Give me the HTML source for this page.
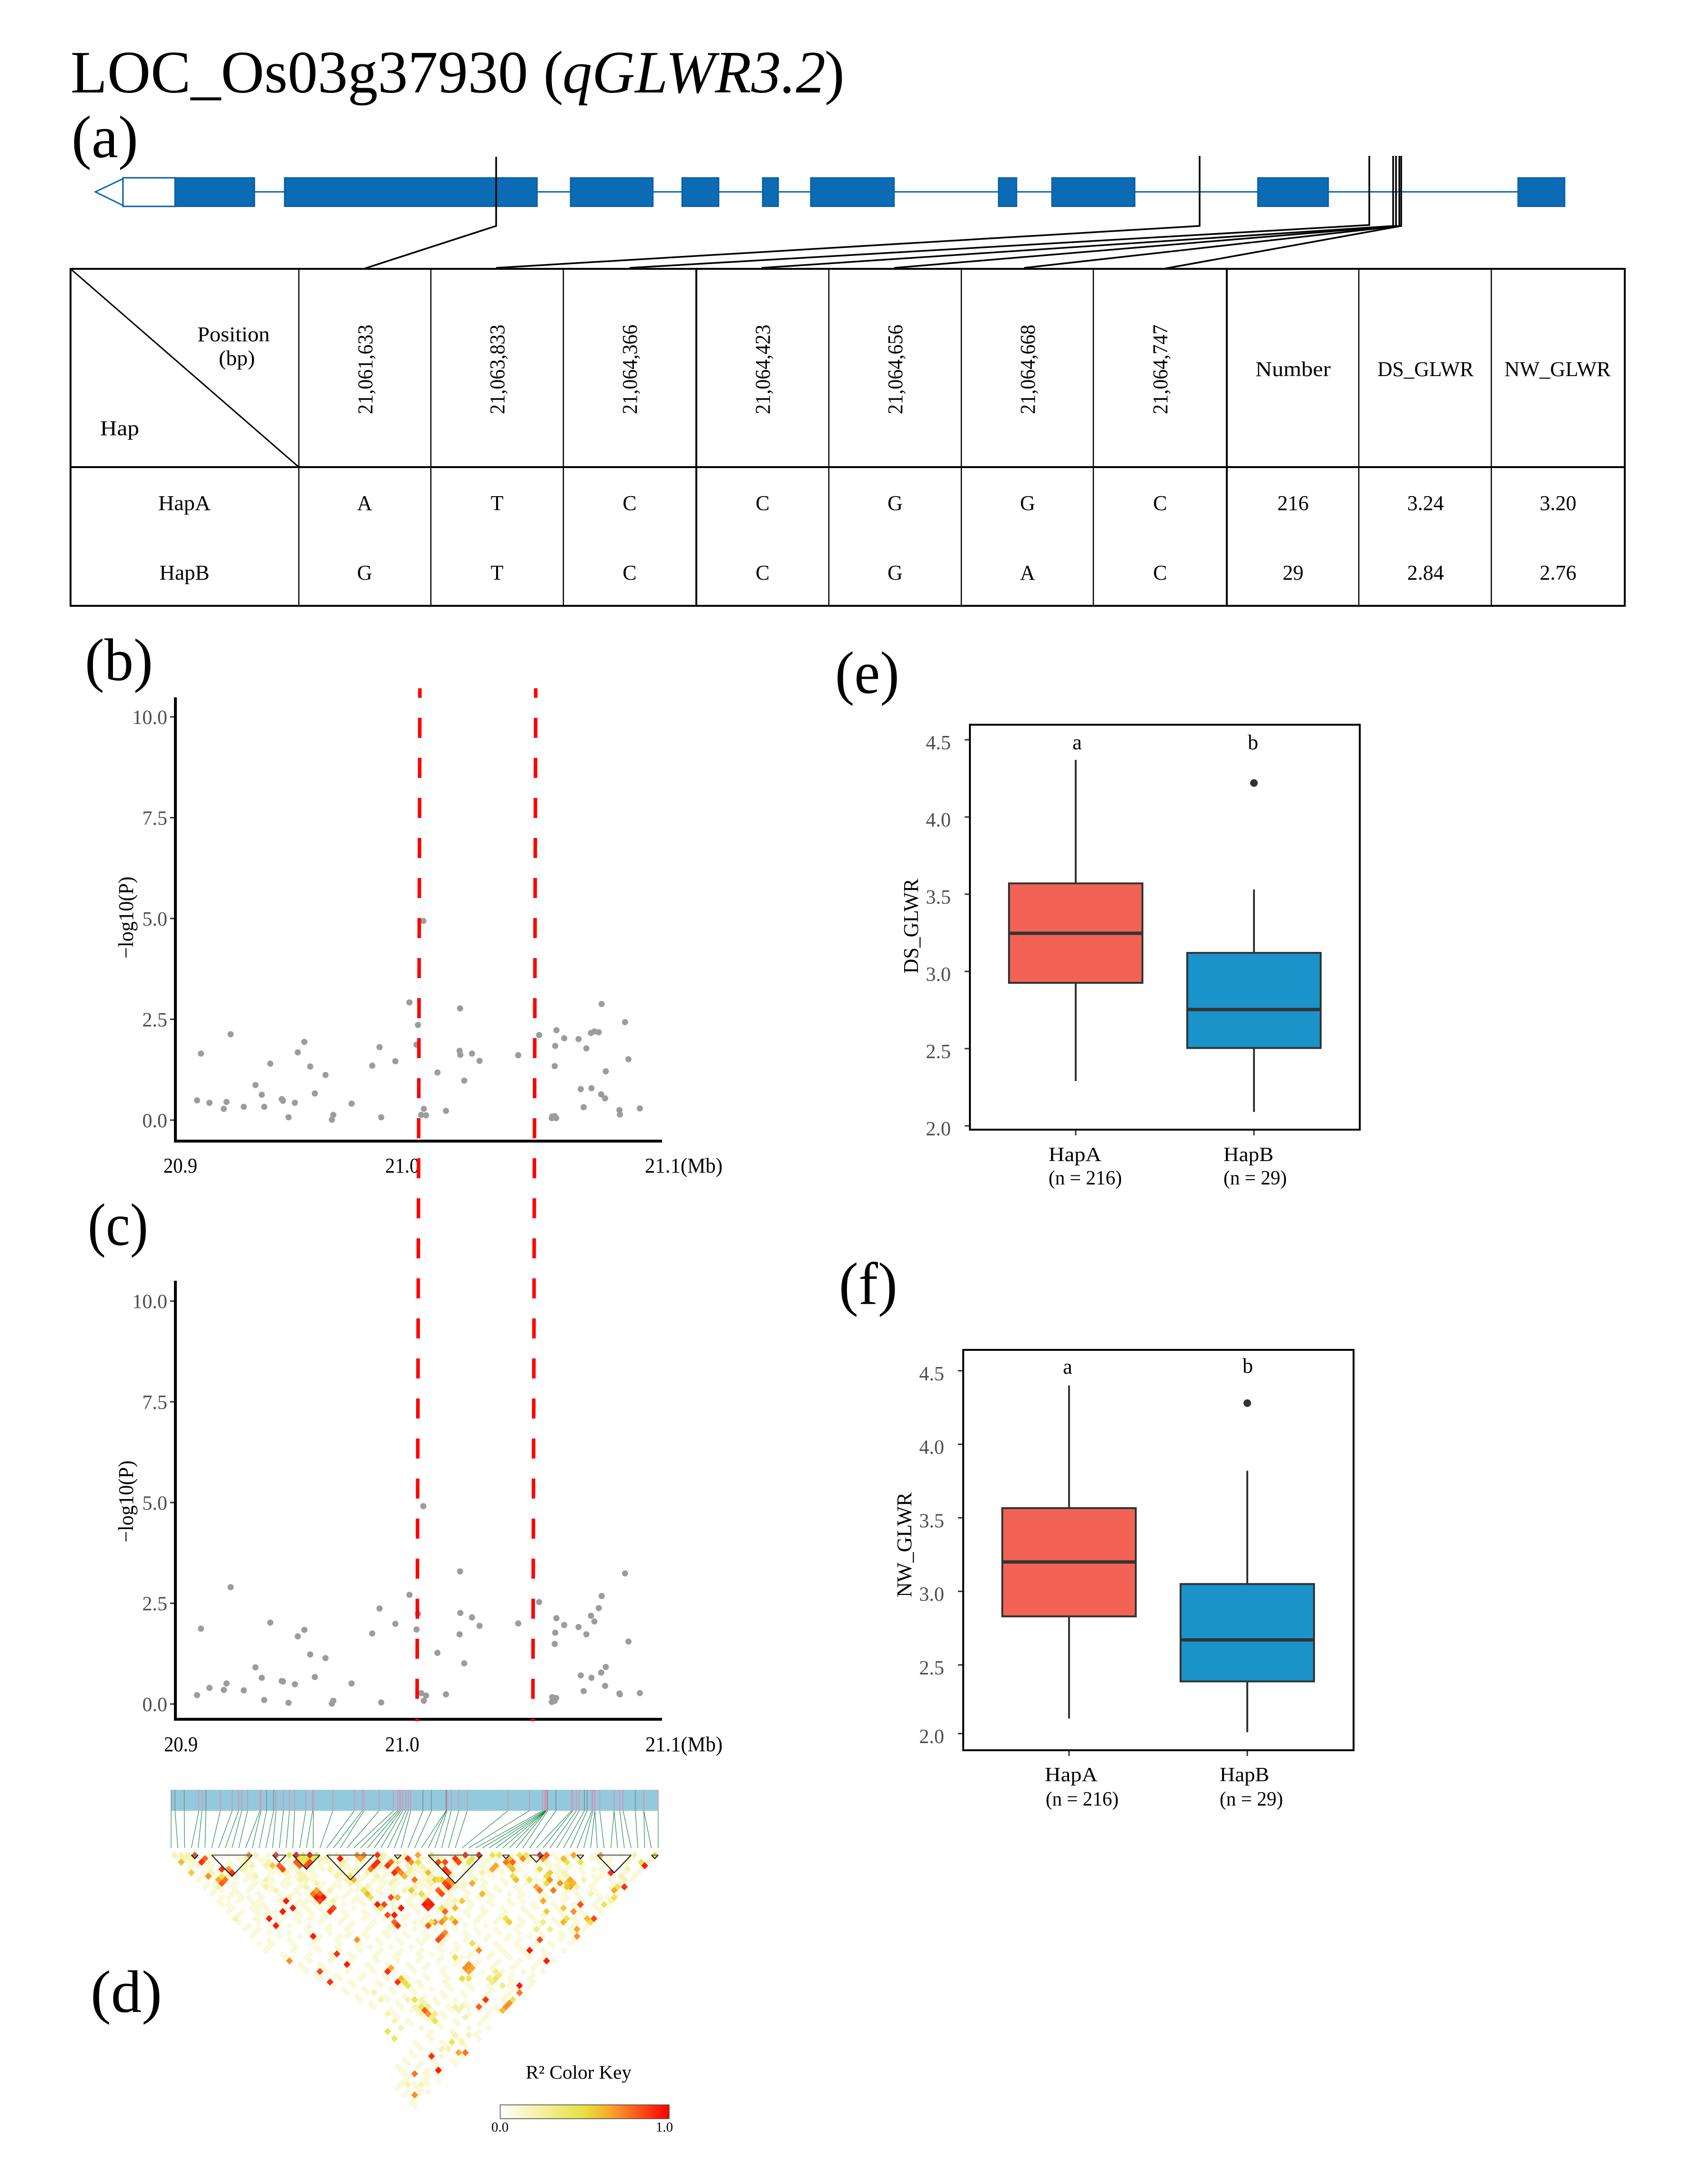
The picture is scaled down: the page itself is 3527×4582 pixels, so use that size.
<!DOCTYPE html>
<html lang="en">
<head>
<meta charset="utf-8">
<title>LOC_Os03g37930 (qGLWR3.2) haplotype analysis</title>
<style>
html,body{margin:0;padding:0;background:#fff;}
svg{display:block;}
text{font-family:"Liberation Serif",serif;fill:#000;}
.t{font-size:44px;}
.c{text-anchor:middle;}
.lab{font-size:126px;}
.ax{font-size:42px;}
</style>
</head>
<body>
<svg id="figure" width="3527" height="4582" viewBox="0 0 3527 4582">
<rect x="0" y="0" width="3527" height="4582" fill="#fff"/>

<g>
<text class="lab" x="148" y="194" textLength="960" lengthAdjust="spacingAndGlyphs">LOC_Os03g37930</text>
<text class="lab" x="1140" y="194">(</text>
<text class="lab" x="1180" y="194" font-style="italic" textLength="552" lengthAdjust="spacingAndGlyphs">qGLWR3.2</text>
<text class="lab" x="1730" y="194">)</text>
</g>
<text class="lab" x="150" y="330" textLength="140" lengthAdjust="spacingAndGlyphs">(a)</text>
<text class="lab" x="178" y="1427" textLength="143" lengthAdjust="spacingAndGlyphs">(b)</text>
<text class="lab" x="184" y="2612" textLength="127" lengthAdjust="spacingAndGlyphs">(c)</text>
<text class="lab" x="190" y="4221" textLength="150" lengthAdjust="spacingAndGlyphs">(d)</text>
<text class="lab" x="1752" y="1454" textLength="135" lengthAdjust="spacingAndGlyphs">(e)</text>
<text class="lab" x="1760" y="2736" textLength="123" lengthAdjust="spacingAndGlyphs">(f)</text>

<g>
<line x1="258" y1="402.5" x2="3190" y2="402.5" stroke="#0b6bb5" stroke-width="3"/>
<polygon points="200,402.5 258,375 258,431" fill="#fff" stroke="#0b6bb5" stroke-width="3"/>
<rect x="258" y="373" width="111" height="60" fill="#fff" stroke="#0a5c9f" stroke-width="3"/>
<g fill="#0b6bb5" stroke="#0a5c9f" stroke-width="2.5">
<rect x="367" y="373" width="167" height="60"/>
<rect x="597" y="373" width="530" height="60"/>
<rect x="1197" y="373" width="173" height="60"/>
<rect x="1431" y="373" width="77" height="60"/>
<rect x="1600" y="373" width="33" height="60"/>
<rect x="1701" y="373" width="175" height="60"/>
<rect x="2095" y="373" width="38" height="60"/>
<rect x="2207" y="373" width="174" height="60"/>
<rect x="2639" y="373" width="148" height="60"/>
<rect x="3185" y="373" width="98" height="60"/>
</g>
<g fill="none" stroke="#000" stroke-width="3.5">
<polyline points="1041,329 1041,474 763,564"/>
<polyline points="2517,327 2517,474 1041,562"/>
<polyline points="2873,327 2873,472 1321,562"/>
<polyline points="2923,327 2923,474 1598,562"/>
<polyline points="2929,327 2929,474 1876,562"/>
<polyline points="2936,327 2936,474 2149,562"/>
<polyline points="2940,327 2940,474 2441,564"/>
</g>
</g>

<g>
<rect x="148" y="564" width="3261" height="707" fill="none" stroke="#000" stroke-width="4"/>
<line x1="148" y1="980" x2="3409" y2="980" stroke="#000" stroke-width="4"/>
<line x1="148" y1="564" x2="627" y2="980" stroke="#000" stroke-width="3"/>
<g stroke="#000" stroke-width="2.5">
<line x1="627" y1="564" x2="627" y2="1271"/>
<line x1="904" y1="564" x2="904" y2="1271"/>
<line x1="1182" y1="564" x2="1182" y2="1271"/>
<line x1="1461" y1="564" x2="1461" y2="1271" stroke-width="4"/>
<line x1="1739" y1="564" x2="1739" y2="1271"/>
<line x1="2017" y1="564" x2="2017" y2="1271"/>
<line x1="2294" y1="564" x2="2294" y2="1271"/>
<line x1="2574" y1="564" x2="2574" y2="1271" stroke-width="4"/>
<line x1="2851" y1="564" x2="2851" y2="1271"/>
<line x1="3129" y1="564" x2="3129" y2="1271"/>
</g>
<text class="t c" x="490" y="716" textLength="152" lengthAdjust="spacingAndGlyphs">Position</text>
<text class="t c" x="497" y="766" textLength="76" lengthAdjust="spacingAndGlyphs">(bp)</text>
<text class="t" x="210" y="913" textLength="82" lengthAdjust="spacingAndGlyphs">Hap</text>
<g class="t">
<text class="t c" transform="translate(781,775) rotate(-90)" textLength="188" lengthAdjust="spacingAndGlyphs">21,061,633</text>
<text class="t c" transform="translate(1058,775) rotate(-90)" textLength="188" lengthAdjust="spacingAndGlyphs">21,063,833</text>
<text class="t c" transform="translate(1336,775) rotate(-90)" textLength="188" lengthAdjust="spacingAndGlyphs">21,064,366</text>
<text class="t c" transform="translate(1615,775) rotate(-90)" textLength="188" lengthAdjust="spacingAndGlyphs">21,064,423</text>
<text class="t c" transform="translate(1893,775) rotate(-90)" textLength="188" lengthAdjust="spacingAndGlyphs">21,064,656</text>
<text class="t c" transform="translate(2171,775) rotate(-90)" textLength="188" lengthAdjust="spacingAndGlyphs">21,064,668</text>
<text class="t c" transform="translate(2449,775) rotate(-90)" textLength="188" lengthAdjust="spacingAndGlyphs">21,064,747</text>
</g>
<text class="t c" x="2713" y="789" textLength="158" lengthAdjust="spacingAndGlyphs">Number</text>
<text class="t c" x="2991" y="789" textLength="202" lengthAdjust="spacingAndGlyphs">DS_GLWR</text>
<text class="t c" x="3268" y="789" textLength="223" lengthAdjust="spacingAndGlyphs">NW_GLWR</text>

<text class="t c" x="387" y="1070" textLength="110" lengthAdjust="spacingAndGlyphs">HapA</text>
<text class="t c" x="765" y="1070">A</text>
<text class="t c" x="1043" y="1070">T</text>
<text class="t c" x="1321" y="1070">C</text>
<text class="t c" x="1600" y="1070">C</text>
<text class="t c" x="1878" y="1070">G</text>
<text class="t c" x="2156" y="1070">G</text>
<text class="t c" x="2434" y="1070">C</text>
<text class="t c" x="2713" y="1070">216</text>
<text class="t c" x="2991" y="1070">3.24</text>
<text class="t c" x="3269" y="1070">3.20</text>

<text class="t c" x="387" y="1216" textLength="105" lengthAdjust="spacingAndGlyphs">HapB</text>
<text class="t c" x="765" y="1216">G</text>
<text class="t c" x="1043" y="1216">T</text>
<text class="t c" x="1321" y="1216">C</text>
<text class="t c" x="1600" y="1216">C</text>
<text class="t c" x="1878" y="1216">G</text>
<text class="t c" x="2156" y="1216">A</text>
<text class="t c" x="2434" y="1216">C</text>
<text class="t c" x="2713" y="1216">29</text>
<text class="t c" x="2991" y="1216">2.84</text>
<text class="t c" x="3269" y="1216">2.76</text>
</g>

<g>
<g id="manhattan-ds-marks"></g>
<line x1="368" y1="1463" x2="368" y2="2397" stroke="#000" stroke-width="6"/>
<line x1="365" y1="2394" x2="1389" y2="2394" stroke="#000" stroke-width="6"/>
<text class="t c" transform="translate(279,1925) rotate(-90)" textLength="172" lengthAdjust="spacingAndGlyphs">−log10(P)</text>
<text class="t" x="343" y="2460" textLength="71" lengthAdjust="spacingAndGlyphs">20.9</text>
<text class="t" x="808" y="2460" textLength="72" lengthAdjust="spacingAndGlyphs">21.0</text>
<text class="t" x="1353" y="2460" textLength="163" lengthAdjust="spacingAndGlyphs">21.1(Mb)</text>
</g>

<g>
<g id="manhattan-nw-marks"></g>
<line x1="368" y1="2687" x2="368" y2="3610" stroke="#000" stroke-width="6"/>
<line x1="365" y1="3607" x2="1389" y2="3607" stroke="#000" stroke-width="6"/>
<text class="t c" transform="translate(279,3150) rotate(-90)" textLength="172" lengthAdjust="spacingAndGlyphs">−log10(P)</text>
<text class="t" x="344" y="3674" textLength="71" lengthAdjust="spacingAndGlyphs">20.9</text>
<text class="t" x="808" y="3674" textLength="72" lengthAdjust="spacingAndGlyphs">21.0</text>
<text class="t" x="1354" y="3674" textLength="162" lengthAdjust="spacingAndGlyphs">21.1(Mb)</text>
</g>

<g fill="none" stroke="#ff0000" stroke-width="7.5" stroke-dasharray="42 42" stroke-dashoffset="22">
<line x1="881" y1="1444" x2="875" y2="3611"/>
<line x1="1124" y1="1444" x2="1118" y2="3611"/>
</g>

<g>
<g id="ld-marks"></g>
</g>
<g>
<defs>
<linearGradient id="ldKeyGrad" x1="0" x2="1" y1="0" y2="0">
<stop offset="0" stop-color="#ffffff"/>
<stop offset="0.5" stop-color="#e6e13c"/>
<stop offset="0.65" stop-color="#fca62c"/>
<stop offset="1" stop-color="#ff0000"/>
</linearGradient>
</defs>
<text x="1103" y="4361" font-size="40" textLength="222" lengthAdjust="spacingAndGlyphs">R² Color Key</text>
<rect x="1049.5" y="4416" width="354.5" height="29" fill="url(#ldKeyGrad)" stroke="#444" stroke-width="1.5"/>
<text x="1049" y="4472" font-size="29" text-anchor="middle">0.0</text>
<text x="1394" y="4472" font-size="29" text-anchor="middle">1.0</text>
</g>

<g>
<g id="box-ds-marks"></g>
<rect x="2035" y="1520.5" width="818" height="849.5" fill="none" stroke="#000" stroke-width="4"/>
<text class="t c" transform="translate(1926,1943) rotate(-90)" textLength="199" lengthAdjust="spacingAndGlyphs">DS_GLWR</text>
<text class="t c" x="2260" y="1572">a</text>
<text class="t c" x="2629" y="1572">b</text>
<text class="ax" x="2200" y="2436" textLength="111" lengthAdjust="spacingAndGlyphs">HapA</text>
<text class="ax" x="2200" y="2485" textLength="154" lengthAdjust="spacingAndGlyphs">(n = 216)</text>
<text class="ax" x="2567" y="2436" textLength="105" lengthAdjust="spacingAndGlyphs">HapB</text>
<text class="ax" x="2567" y="2485" textLength="133" lengthAdjust="spacingAndGlyphs">(n = 29)</text>
</g>

<g>
<g id="box-nw-marks"></g>
<rect x="2021" y="2832" width="819" height="840" fill="none" stroke="#000" stroke-width="4"/>
<text class="t c" transform="translate(1912,3241) rotate(-90)" textLength="220" lengthAdjust="spacingAndGlyphs">NW_GLWR</text>
<text class="t c" x="2240" y="2882">a</text>
<text class="t c" x="2618" y="2880">b</text>
<text class="ax" x="2192" y="3737" textLength="111" lengthAdjust="spacingAndGlyphs">HapA</text>
<text class="ax" x="2194" y="3788" textLength="153" lengthAdjust="spacingAndGlyphs">(n = 216)</text>
<text class="ax" x="2559" y="3737" textLength="104" lengthAdjust="spacingAndGlyphs">HapB</text>
<text class="ax" x="2559" y="3788" textLength="133" lengthAdjust="spacingAndGlyphs">(n = 29)</text>
</g>
</svg>

<script>
/* ---------- Manhattan data ---------- */
const snpPositionsMb = [20.9089,20.9105,20.9140,20.9199,20.9210,20.9227,20.9281,20.9329,20.9355,20.9365,20.9390,20.9437,20.9442,20.9465,20.9491,20.9503,20.9530,20.9554,20.9573,20.9617,20.9643,20.9649,20.9724,20.9809,20.9839,20.9846,20.9904,20.9962,20.9991,20.9997,21.0010,21.0019,21.0021,21.0030,21.0077,21.0112,21.0168,21.0170,21.0171,21.0187,21.0219,21.0250,21.0409,21.0495,21.0547,21.0549,21.0559,21.0561,21.0559,21.0565,21.0566,21.0598,21.0657,21.0666,21.0678,21.0689,21.0708,21.0710,21.0722,21.0740,21.0750,21.0752,21.0766,21.0769,21.0825,21.0827,21.0848,21.0862,21.0909];
const dsLogP = [0.49,1.65,0.43,0.28,0.45,2.13,0.33,0.87,0.63,0.33,1.40,0.52,0.48,0.07,0.43,1.68,1.94,1.33,0.66,1.12,0.01,0.13,0.41,1.35,1.81,0.07,1.46,2.92,1.87,2.36,0.13,4.94,0.28,0.12,1.18,0.23,1.72,2.77,1.62,0.98,1.65,1.47,1.61,2.11,0.05,0.09,1.34,1.84,0.10,0.05,2.23,2.03,2.01,0.77,0.32,1.78,2.16,0.79,2.20,2.18,0.64,2.88,0.54,1.21,0.25,0.14,2.43,1.51,0.29];
const nwLogP = [0.22,1.87,0.40,0.35,0.51,2.90,0.34,0.91,0.65,0.10,2.02,0.57,0.56,0.03,0.49,1.68,1.84,1.23,0.67,1.14,0.01,0.08,0.51,1.75,2.37,0.04,1.99,2.71,1.85,2.24,0.27,4.91,0.08,0.21,1.27,0.24,1.73,3.29,2.26,1.01,2.15,1.94,2.00,2.53,0.05,0.17,1.49,1.77,0.08,0.15,2.13,1.96,1.91,0.71,0.32,1.73,2.19,0.65,2.05,2.38,0.78,2.68,0.45,0.92,0.26,0.24,3.24,1.55,0.27];
const logPTicks = [0,2.5,5,7.5,10];
const logPTickLabels = ['0.0','2.5','5.0','7.5','10.0'];

/* ---------- Box plot data ---------- */
const boxTicks = [2,2.5,3,3.5,4,4.5];
const boxTickLabels = ['2.0','2.5','3.0','3.5','4.0','4.5'];
const boxGroups = ['HapA','HapB'];
const dsWhiskerLow = [2.29,2.09];
const dsQ1 = [2.926,2.504];
const dsMedian = [3.247,2.753];
const dsQ3 = [3.57,3.12];
const dsWhiskerHigh = [4.37,3.53];
const dsOutliers = [null,4.22];
const nwWhiskerLow = [2.11,2.01];
const nwQ1 = [2.83,2.38];
const nwMedian = [3.20,2.67];
const nwQ3 = [3.566,3.05];
const nwWhiskerHigh = [4.40,3.82];
const nwOutliers = [null,4.28];

/* ---------- LD data ---------- */
const markerKb = [0,1.6,5.4,11.4,12.7,14.3,20.2,25.1,27.7,29.0,31.4,36.5,36.9,39.2,42.1,43.1,46.1,48.6,50.7,55.3,58.1,58.4,66.4,75.2,78.5,79.2,85.4,91.3,93.0,93.7,94.3,95.1,96.4,97.4,98.4,103.4,106.9,112.9,113.0,113.3,115.0,118.1,121.6,138.3,147.1,152.6,153.4,153.8,154.0,154.0,154.1,154.1,154.6,158.0,164.4,164.9,166.4,167.6,169.7,170.8,172.8,173.2,174.0,174.0,176.0,181.9,181.9,184.2,185.6,190.6,194.1,194.1,200];
const markerGrayIdx = [0,1,2,5,13,14,35,36,37,38,52,53,58,59,62,69,70];
const ldBlocks = [[3,4],[6,12],[15,17],[18,22],[23,30],[33,34],[38,46],[49,50],[53,55],[60,61],[63,68],[71,72]];
/* base r-squared in tenths; one string per marker gap d = 1..72, character k = first marker */
const ldRows = [
"222001101002201102201102210110220120200101201102101000221010101100102000",
"12201100012011001012022011000120211010120220011100002110100101101001001",
"2110100101101201102101102011011120120110100101001011012011000011001011",
"011110010220210011011012100102210212012011101000110010110101001101001",
"10010100210011011010120112011011021210110110101011001001101011000201",
"0012012011001120211001201021010121120120010210101001001200100110101",
"012102101201001121100211010210101012102101001001010010120001100201",
"10011001102101022100012010110200112011010210010100110110020101021",
"0110010011101101021010210101210011201011001001001001011200100110",
"102010010210101201011001201010121101021001010010001011020100102",
"01101010012001011020011011010210011210100101001001000110010010",
"1001100100101100210010010101002010110010010010100100101021001",
"011011010012001100110101001001020101010101000100110010100110",
"10010110010011101200110100101011001201001001010010010010102",
"1100011001011010101001010100101001100100100100100100100101",
"010011100100101010010010010010010100101001001010010010010",
"10101011001010100100101001001001100100100100100101001001",
"0100110010101010010010011010010010010100100010100100100",
"200100100101010010010011010010010100100100101001001001",
"10010010010010010100100100110010100100100010100100100",
"0100100100100100100100101001001001001001010010010101",
"101001000100100100100110010010010010010010010100101",
"01010010010010010100100100100100101001001001001010",
"1000100100100110010010010010010010010010010100100",
"001001000100100100100100110010010010010100100101",
"10100100100010010010010010010100100100100101001",
"0100010010010010100100100010010010010010100100",
"100010001001001001001001001010010001001001001",
"00100010010010001001001010010010010100100100",
"0010010001001001001000100100110010010010100",
"001001001001000100100100100100100100100101",
"00010010001001001001001000100100100100100",
"0001001000100100100101001001000100100100",
"000100100100010010010001001001001001001",
"00001001000100100100100100010010010010",
"0000100100100010010010010010010010010",
"000001001000100100100010010001001001",
"00000100100010010010001001001001001",
"0000001001000100100100100100100100",
"000000100100010010001001000100100",
"00000001000100100100100100100100",
"0000000100010001001001000100100",
"000000001000100100100010010010",
"00000000100010010001001000100",
"0000000000100100100100010010",
"000000000010001001000100100",
"00000000001000100100100100",
"0000000000010010001000100",
"000000000001000100100100",
"00000000000010010001001",
"0000000000000100100010",
"000000000000100010010",
"00000000000010001001",
"0000000001000100100",
"000000000100010010",
"00000000010001000",
"0000000100100010",
"000000010001001",
"00000100010010",
"0000010001001",
"000100100100",
"00010001010",
"0001001010",
"000100100",
"00100101",
"0101010",
"100100",
"01010",
"1010",
"010",
"10",
"1"
];
/* strongest LD cells: [i+j, j-i, r2 in tenths] */
const ldHotCells = [
[7,1,8],[23,1,7],[31,1,8.5],[37,1,9.5],[41,1,9.5],[50,2,9.5],[55,1,7],[57,1,7.5],[61,1,9],[73,1,6.5],[70,2,9],[87,1,9],[91,1,9.5],[109,1,9.5],[111,1,8],[119,1,6.5],[127,1,6.5],
[3,3,6],[9,3,9],[10,2,8],[11,7,7],[6,6,5.5],[15,5,9],[17,5,7],[18,6,9],[14,8,6.5],[16,8,7.5],[15,9,8],[15,7,4.5],
[30,4,5.5],[32,4,8],[33,5,8.5],[37,3,8],[38,4,8],[40,4,8.5],[41,3,8.5],[39,2,4.5],[38,2,4.5],[40,2,4.5],[39,3,4.5],[43,1,4.5],[39,1,4.5],[42,2,4.5],[35,1,4.5],
[56,2,6.5],[61,3,9],[60,4,9],[59,5,7.5],[53,7,4.5],[54,8,6],[64,4,9],[65,3,8],[66,6,9],[67,5,8],
[42,12,7.5],[43,11,6.5],[44,12,8],[43,13,9.5],[45,13,9.5],[44,14,8.5],[34,14,9.5],[33,17,9.5],[36,16,9.5],[47,17,9],[48,16,8.5],[29,19,9.5],[31,21,9.5],
[61,15,9.5],[63,15,8.5],[62,16,4.5],[65,13,8.5],[67,13,6],[58,12,6],[59,13,4.5],[57,11,4.5],[64,18,8.5],[66,18,9.5],[66,20,8],
[71,3,7],[73,3,5],[79,3,8.5],[81,3,8.5],[84,2,9],[85,3,8.5],[81,5,9],[82,6,8.5],[77,1,4.5],[89,2,4.5],[88,3,4.5],[76,6,6],[78,8,5.5],[79,8,5],[81,9,8.5],[82,8,7],[83,9,7],[82,10,9],[80,8,5.5],[79,11,8],[80,12,8.5],[68,6,7],[69,7,6],[72,8,7.5],[71,11,5.5],[74,12,5],[76,14,9],[75,15,9.5],[77,15,9.5],[76,16,9],[68,16,9.5],[81,17,8],[84,16,6],[80,16,4.5],[89,9,6.5],[86,14,5.5],[92,12,6],[95,5,6.5],[96,4,6.5],[99,3,7.5],[100,2,6],[101,3,8],[100,4,5.5],[101,5,6],[97,1,4.5],[95,1,4.5],[103,1,4.5],[104,2,7],[105,1,4],[110,2,7],[109,5,5],[116,2,6],[117,3,4.5],[121,3,4.5],[130,6,9],[140,4,9.5],[139,3,4.5],[143,1,4.5],[102,8,6],[101,7,4.5],[106,8,4.5],[112,6,5.5],[111,7,5],[112,8,7],[113,11,7.5],[111,9,5],[115,9,7],[117,9,5.5],[118,8,6.5],[119,9,6],[118,10,6.5],[117,10,5.5],[108,10,6.5],[109,11,7.5],[110,14,6.5],[111,17,5.5],[121,15,8.5],[119,17,7],[116,16,5.5],[134,10,9],[131,11,6.5],[132,10,4.5],[131,13,4.5],[128,15,4.5],[125,19,8.5],[123,19,6],[124,20,5],[116,20,6],[117,19,4.5],[99,19,4.5],[100,20,5.5],[84,20,7],[81,19,6],[78,20,7],[83,19,4.5],[77,20,4.5],
[67,21,9],[76,21,8],[80,20,7],[80,24,8],[79,25,8.5],[81,23,7],[42,24,9.5],[55,25,7],[49,29,9],[52,32,9.5],[44,34,8.5],[35,31,7],[47,37,9],[64,34,9],[65,33,6.5],[67,37,9],[68,36,6],[69,37,5],[88,32,7],[87,33,7],[89,33,6.5],[88,34,6.5],[91,28,7],[93,42,9],[91,44,8],[103,38,9.5],[103,40,7.5],[100,43,7],[99,44,7],[98,45,6],[75,45,8],[76,46,7],[77,58,9],[79,62,9.5],[72,63,7.5],[72,69,7],[87,57,7.5],[85,57,6.5],[106,28,9.5],[111,31,9.5],[109,25,8.5],[120,24,7],[120,22,6.5],
[89,26,4.5],[84,30,4.5],[96,36,4],[72,42,4.5],[64,51,4.5],[83,54,4.5],[66,53,4],[74,44,4],[78,48,4.5],[101,42,4.5],[86,36,5],[88,36,4.5],[70,38,4.5],
[70,42,2],[72,44,2],[74,42,2],[76,44,3],[78,46,3],[74,46,2],[73,45,2],[77,47,3],[75,43,2],[84,44,2],[86,44,2],[85,45,2],[87,47,2],[64,46,2],[66,48,2],[68,50,2],[60,40,2],[62,42,2],[96,34,3],[94,36,3],[98,38,3],[95,37,3],[97,35,3],[110,20,3],[108,22,3],[112,22,3],[70,60,1],[74,60,1],[76,62,1],[80,56,2],[82,56,2],[86,54,2],[88,52,2],[84,52,2],[70,66,2],[74,66,2],[76,68,1]
];

/* ---------- Axis functions ---------- */
const xMb = mb => 368 + (mb - 20.9) * 5105;
const yDs = v => 2350 - 84.6 * v;
const yNw = v => 3575 - 84.54 * v;
const yBoxDs = v => 2362 - 324 * (v - 2);
const yBoxNw = v => v >= 2.5 ? 3493 - 308.6 * (v - 2.5) : 3493 + 288 * (2.5 - v);
const xMarkerTop = kb => 359 + kb * 5.11;
const xLd = idx => 359 + idx * 14.194;
const yLd = gap => 3892 + (gap - 1) * 7.4;

const SVG_NS = document.getElementById('figure').namespaceURI;
function mk(tag, attrs, parent) {
  const el = document.createElementNS(SVG_NS, tag);
  for (const k in attrs) el.setAttribute(k, attrs[k]);
  parent.appendChild(el);
  return el;
}

/* ---------- Manhattan plots ---------- */
function drawManhattan(groupId, values, yFn) {
  const g = document.getElementById(groupId);
  logPTicks.forEach((t, n) => {
    const tick = mk('line', {x1: 357, x2: 368, y1: yFn(t), y2: yFn(t), stroke: '#333', 'stroke-width': 3}, g);
    
    
    const lab = mk('text', {x: 351, y: yFn(t) + 15, 'text-anchor': 'end', 'font-size': 42, style: 'fill:#4d4d4d'}, g);
    lab.textContent = logPTickLabels[n];
    
    
  });
  values.forEach((v, n) => {
    const dot = mk('circle', {cx: xMb(snpPositionsMb[n]), cy: yFn(v), r: 6.5, fill: '#9c9c9c'}, g);
    
    
  });
}
drawManhattan('manhattan-ds-marks', dsLogP, yDs);
drawManhattan('manhattan-nw-marks', nwLogP, yNw);

/* ---------- Box plots ---------- */
const boxFills = ['#f26355', '#1a93cb'];
function drawBoxes(groupId, yFn, geo, low, q1, med, q3, high, outliers) {
  const g = document.getElementById(groupId);
  boxTicks.forEach((t, n) => {
    const tick = mk('line', {x1: geo.frameLeft - 11, x2: geo.frameLeft, y1: yFn(t), y2: yFn(t), stroke: '#333', 'stroke-width': 3}, g);
    
    
    const lab = mk('text', {x: geo.labelRight, y: yFn(t) + 20, 'text-anchor': 'end', 'font-size': 42, style: 'fill:#4d4d4d'}, g);
    lab.textContent = boxTickLabels[n];
    
    
  });
  boxGroups.forEach((name, n) => {
    const cx = geo.centers[n];
    const whisker = mk('line', {x1: cx, x2: cx, y1: yFn(high[n]), y2: yFn(low[n]), stroke: '#333', 'stroke-width': 4}, g);
    
    
    const box = mk('rect', {x: cx - geo.halfWidth, width: geo.halfWidth * 2, y: yFn(q3[n]), height: yFn(q1[n]) - yFn(q3[n]), fill: boxFills[n], stroke: '#333', 'stroke-width': 4}, g);
    
    
    const median = mk('line', {x1: cx - geo.halfWidth, x2: cx + geo.halfWidth, y1: yFn(med[n]), y2: yFn(med[n]), stroke: '#333', 'stroke-width': 7}, g);
    
    
    const xtick = mk('line', {x1: cx, x2: cx, y1: geo.frameBottom, y2: geo.frameBottom + 12, stroke: '#333', 'stroke-width': 3}, g);
    
    
    if (outliers[n] !== null) {
      const out = mk('circle', {cx: cx, cy: yFn(outliers[n]), r: 8, fill: '#333'}, g);
      
      
    }
  });
}
drawBoxes('box-ds-marks', yBoxDs, {frameLeft: 2035, frameBottom: 2370, labelRight: 1995, centers: [2257, 2631], halfWidth: 140}, dsWhiskerLow, dsQ1, dsMedian, dsQ3, dsWhiskerHigh, dsOutliers);
drawBoxes('box-nw-marks', yBoxNw, {frameLeft: 2021, frameBottom: 3672, labelRight: 1981, centers: [2243, 2617], halfWidth: 140}, nwWhiskerLow, nwQ1, nwMedian, nwQ3, nwWhiskerHigh, nwOutliers);

/* ---------- LD heatmap ---------- */
function ldColor(r) {
  const stops = [[0,255,255,255],[0.5,230,225,60],[0.65,252,166,44],[1,255,0,0]];
  for (let s = 1; s < stops.length; s++) {
    if (r <= stops[s][0]) {
      const a = stops[s - 1], b = stops[s], f = (r - a[0]) / (b[0] - a[0]);
      return 'rgb(' + [1,2,3].map(c => Math.round(a[c] + (b[c] - a[c]) * f)).join(',') + ')';
    }
  }
  return 'rgb(255,0,0)';
}
(function drawLd() {
  const g = document.getElementById('ld-marks');
  const bar = mk('rect', {x: xLd(0), y: 3755, width: xLd(72) - xLd(0), height: 44, fill: '#92c9dd'}, g);
  
  
  markerKb.forEach((kb, n) => {
    const isGray = markerGrayIdx.includes(n);
    const tick = mk('line', {x1: xMarkerTop(kb), x2: xMarkerTop(kb), y1: 3755, y2: 3799, stroke: isGray ? '#7f8c90' : '#e28ab0', 'stroke-width': 1.6}, g);
    
    
    const link = mk('line', {x1: xMarkerTop(kb), x2: xLd(n), y1: 3799, y2: 3877, stroke: '#0a8040', 'stroke-width': 1.1}, g);
    
    
  });
  const cells = {};
  ldRows.forEach((row, r) => {
    const gap = r + 1;
    for (let k = 0; k < row.length && k + gap <= 72; k++) {
      const v = +row[k];
      if (v > 0) cells[(2 * k + gap) + '_' + gap] = v;
    }
  });
  ldHotCells.forEach(c => { cells[c[0] + '_' + c[1]] = c[2]; });
  const hw = 7.3, hh = 7.6;
  Object.keys(cells).forEach(key => {
    const parts = key.split('_');
    const x = xLd(+parts[0] / 2), y = yLd(+parts[1]);
    const cell = mk('polygon', {points: [x, y - hh, x + hw, y, x, y + hh, x - hw, y].join(' '), fill: ldColor(cells[key] / 10)}, g);
    
    
  });
  ldBlocks.forEach(b => {
    const top = mk('line', {x1: xLd(b[0]), x2: xLd(b[1]), y1: 3892, y2: 3892, stroke: '#6e6e6e', 'stroke-width': 2.5}, g);
    
    
    const sides = mk('polyline', {points: [xLd(b[0]), 3892, xLd((b[0] + b[1]) / 2), yLd(b[1] - b[0] + 1), xLd(b[1]), 3892].join(' '), fill: 'none', stroke: '#111', 'stroke-width': 2}, g);
    
    
  });
})();
</script>
</body>
</html>
